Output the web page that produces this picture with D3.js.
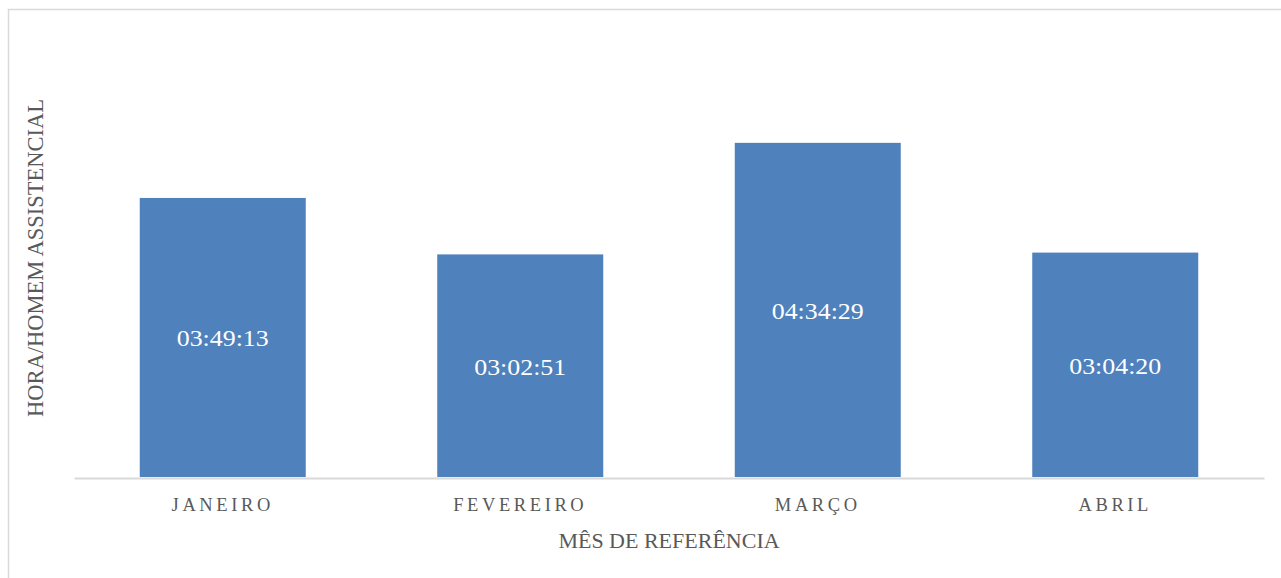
<!DOCTYPE html>
<html>
<head>
<meta charset="utf-8">
<script src="https://cdn.jsdelivr.net/npm/d3@7"></script>
<style>
  html, body { margin: 0; padding: 0; background: #fff; }
  svg { display: block; }
</style>
</head>
<body>
<svg id="chart" width="1281" height="578"></svg>
<script>
const categories = ["JANEIRO", "FEVEREIRO", "MARÇO", "ABRIL"];
const valueLabels = ["03:49:13", "03:02:51", "04:34:29", "03:04:20"];
const valuesSeconds = [13753, 10971, 16469, 11060];
const xTitle = "MÊS DE REFERÊNCIA";
const yTitle = "HORA/HOMEM ASSISTENCIAL";

const W = 1281, H = 578;
const svg = d3.select("#chart");
const font = "'Liberation Serif', 'DejaVu Serif', serif";

// chart frame
svg.append("rect").attr("x", 8.5).attr("y", 9.5).attr("width", W).attr("height", H)
  .attr("fill", "#fff").attr("stroke", "#d9d9d9").attr("stroke-width", 1.5);

const plot = { left: 74, right: 1264, bottom: 477 };
const x = d3.scaleBand().domain(categories).range([plot.left, plot.right])
  .paddingInner(0.442).paddingOuter(0.221);
const y = d3.scaleLinear().domain([0, 18000]).range([plot.bottom, plot.bottom - 18000 * 0.02029]);

svg.append("g").selectAll("rect").data(categories).join("rect")
  .attr("x", d => x(d))
  .attr("y", (d, i) => y(valuesSeconds[i]))
  .attr("width", x.bandwidth())
  .attr("height", (d, i) => y(0) - y(valuesSeconds[i]))
  .attr("fill", "#4f81bd");

svg.append("g").selectAll("text").data(categories).join("text")
  .attr("x", d => x(d) + x.bandwidth() / 2)
  .attr("y", (d, i) => (y(valuesSeconds[i]) + y(0)) / 2 + 9)
  .attr("text-anchor", "middle")
  .attr("fill", "#fff")
  .attr("textLength", 92).attr("lengthAdjust", "spacingAndGlyphs")
  .style("font-family", font).style("font-size", "24px")
  .text((d, i) => valueLabels[i]);

// x axis
const xAxis = d3.axisBottom(x).tickSize(0).tickPadding(0);
const gx = svg.append("g").attr("transform", `translate(0,${plot.bottom + 1})`).call(xAxis);
gx.select(".domain").attr("stroke", "#d9d9d9").attr("stroke-width", 2);
gx.selectAll(".tick text")
  .attr("dy", null).attr("y", 33)
  .attr("fill", "#595959")
  .style("font-family", font).style("font-size", "18.5px")
  .style("letter-spacing", "3.6px");

svg.append("text")
  .attr("x", 669).attr("y", 548)
  .attr("text-anchor", "middle").attr("fill", "#595959")
  .style("font-family", font).style("font-size", "22px")
  .text(xTitle);

svg.append("text")
  .attr("transform", "translate(43,258) rotate(-90)")
  .attr("text-anchor", "middle").attr("fill", "#595959")
  .style("font-family", font).style("font-size", "22.5px")
  .text(yTitle);
</script>
</body>
</html>
